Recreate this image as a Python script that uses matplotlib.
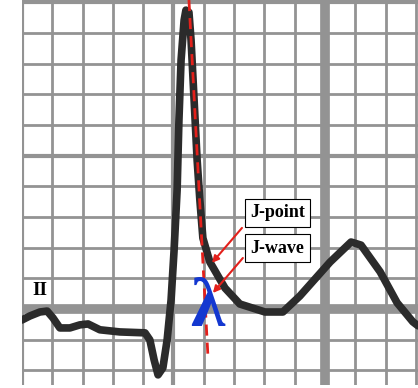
import matplotlib.pyplot as plt
import numpy as np

# ECG trace, lead II, in small-box units (x: time boxes, y: mm from baseline)
t_box = [0.0, 0.26, 0.59, 0.83, 1.02, 1.25, 1.58, 1.91, 2.18, 2.57, 3.23, 4.06,
         4.22, 4.36, 4.49, 4.65, 4.79, 4.92, 5.02, 5.12, 5.18, 5.25, 5.35, 5.41,
         5.51, 5.58, 5.68, 5.78, 5.87, 5.97, 6.20, 6.70, 7.19, 8.02, 8.61, 9.17,
         10.17, 10.86, 11.19, 11.82, 12.38, 12.90, 13.07]
v_mm = [-0.36, -0.23, -0.10, -0.07, -0.29, -0.62, -0.62, -0.52, -0.49, -0.68, -0.75, -0.78,
        -1.01, -1.66, -2.15, -1.92, -1.01, 0.29, 1.92, 3.88, 6.16, 8.11, 9.41, 9.74,
        9.67, 8.76, 6.81, 4.85, 3.55, 2.31, 1.53, 0.68, 0.16, -0.10, -0.10, 0.42,
        1.53, 2.18, 2.08, 1.21, 0.20, -0.42, -0.55]

# dashed reference line through the R downstroke
ref_t = [5.51, 6.14]
ref_v = [10.07, -1.60]

labels = ['J-point', 'J-wave']
label_pos = [(8.43, 3.14), (8.43, 1.98)]
arrow_from = [(7.26, 2.64), (7.29, 1.66)]
arrow_to = [(6.27, 1.50), (6.30, 0.52)]

fig = plt.figure(figsize=(4.18, 3.88), dpi=100)
ax = fig.add_axes([22 / 418, 3 / 388, 396 / 418, 385 / 388])
ax.set_xlim(0, 13.07)
ax.set_ylim(-2.48, 10.07)
ax.axis('off')

grid_col = '#939393'
for x in np.arange(0, 14):
    lw = 2.0
    if x == 10:
        lw = 7.0
    elif x in (0, 5):
        lw = 3.0
    ax.axvline(x, color=grid_col, lw=lw, zorder=1)
for y in np.arange(-2, 11):
    lw = 2.0
    if y == 0:
        lw = 7.0
    elif y in (5, 10):
        lw = 3.0
    ax.axhline(y, color=grid_col, lw=lw, zorder=1)

ax.plot(t_box, v_mm, color='#2b2b2b', lw=5.5, solid_joinstyle='round',
        solid_capstyle='round', zorder=3)
ax.plot(ref_t, ref_v, color='#e3201b', lw=2.0, linestyle=(0, (4, 2.5)), zorder=4)

ax.text(6.12, 0.0, 'λ', color='#1438d0', fontsize=50, fontweight='bold',
        family='Liberation Serif', ha='center', va='center', zorder=5)

ax.text(0.6, 0.6, 'II', fontsize=14, fontweight='bold', family='Liberation Serif',
        ha='center', va='center', zorder=5)

for lab, (lx, ly) in zip(labels, label_pos):
    ax.text(lx, ly, lab, fontsize=13, fontweight='bold', family='Liberation Serif',
            ha='center', va='center', zorder=6,
            bbox=dict(boxstyle='square,pad=0.3', fc='white', ec='black', lw=0.8))
for (sx, sy), (ex, ey) in zip(arrow_from, arrow_to):
    ax.annotate('', xy=(ex, ey), xytext=(sx, sy), zorder=6,
                arrowprops=dict(arrowstyle='-|>', color='#e3201b', lw=1.5,
                                mutation_scale=10, shrinkA=0, shrinkB=0))

fig.savefig('out.png', dpi=100)
